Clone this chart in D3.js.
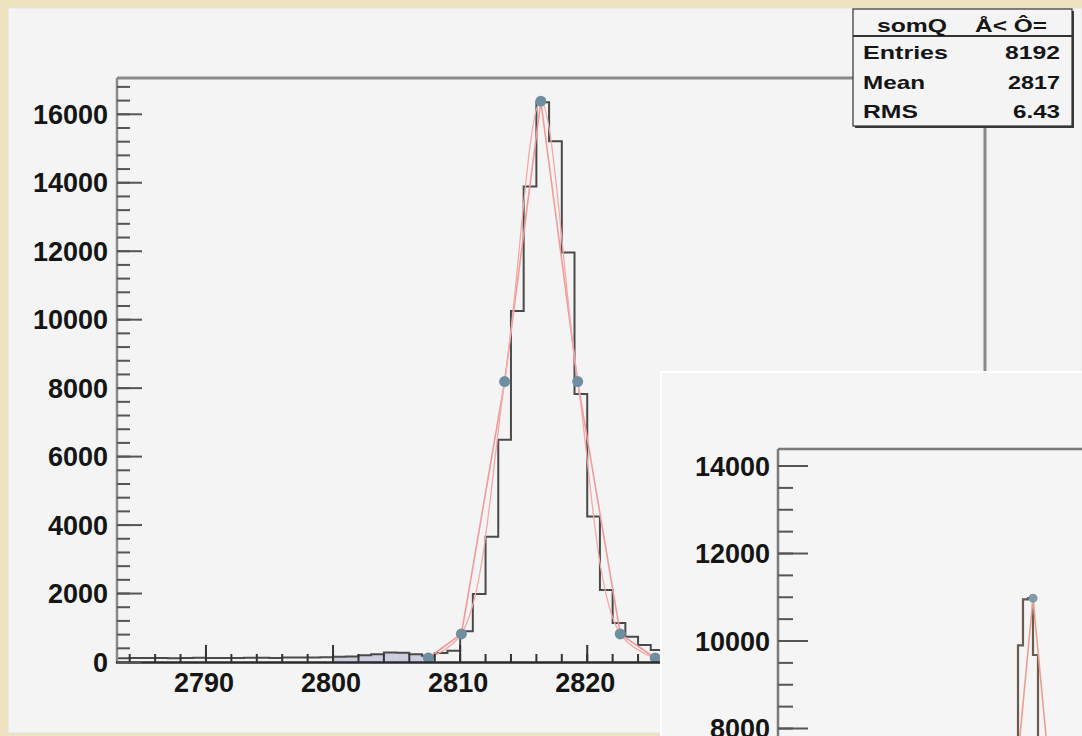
<!DOCTYPE html>
<html>
<head>
<meta charset="utf-8">
<script src="https://cdn.jsdelivr.net/npm/d3@7"></script>
<style>
html,body{margin:0;padding:0;background:#efe2bf;}
svg{display:block;}
text{font-family:"Liberation Sans",Arial,sans-serif;font-weight:bold;fill:#151515;}
</style>
</head>
<body>
<svg id="c" width="1082" height="736"></svg>
<script>
// ---------- data ----------
const binStart = 2783;               // left edge of first bin (width 1)
const mainCounts = [
  110,115,120,115,110,120,125,115,120,118,122,125,120,128,130,135,140,
  150,160,200,230,280,270,230,180,260,330,
  900,1990,3660,6490,10250,13890,16350,15210,11960,7830,4250,2100,1140,740,500,350,
  260,220,180,160,150,140,135,130,128,125,122,120,118,115,115,112,110,110,108,105,105,102,100,100,100
];
const shadedBins = [2800,2801,2802,2803,2804,2805,2806,2807];
const fitX = [2807.5, 2810.1, 2813.5, 2816.35, 2819.25, 2822.6, 2825.35];
const fitY = [117, 820, 8192, 16384, 8192, 820, 117];
const yTicksMain = [0,2000,4000,6000,8000,10000,12000,14000,16000];
const xTicksMain = [2790,2800,2810,2820,2830,2840,2850];

const insetStart = 2810;
const insetCounts = [6200,7000,7600,9900,10950,10980,9680,7600,6800,6000];
const insetFitX = [2812.3, 2816.0, 2819.7];
const insetFitY = [6500, 10980, 6500];
const yTicksInset = [8000,10000,12000,14000];

const statsTitle = ["somQ", "Å< Ô="];
const statsNames = ["Entries","Mean","RMS"];
const statsValues = ["8192","2817","6.43"];

// ---------- drawing ----------
const svg = d3.select("#c");
const defs = svg.append("defs");

// main pad
svg.append("rect").attr("x",8).attr("y",8).attr("width",1074).attr("height",725)
  .attr("fill","#f4f4f4").attr("stroke","#e2e2e2").attr("stroke-width",1);

const x = d3.scaleLinear().domain([2783, 2851.3]).range([117, 985]);
const y = d3.scaleLinear().domain([0, 17060]).range([662, 78]);

defs.append("clipPath").attr("id","mclip").append("rect")
  .attr("x",117).attr("y",70).attr("width",868).attr("height",593);

const main = svg.append("g").attr("clip-path","url(#mclip)");

// shaded boxes near baseline
main.selectAll("rect.sh").data(shadedBins).join("rect").attr("class","sh")
  .attr("x", d => x(d)).attr("width", d => x(d+1)-x(d))
  .attr("y", d => y(mainCounts[d-binStart])).attr("height", d => y(0)-y(mainCounts[d-binStart]))
  .attr("fill","#cdcde0");

// histogram step
const histPts = mainCounts.map((v,i)=>[binStart+i, v]);
histPts.push([binStart+mainCounts.length, mainCounts[mainCounts.length-1]]);
main.append("path").datum(histPts)
  .attr("d", d3.line().x(d=>x(d[0])).y(d=>y(d[1])).curve(d3.curveStepAfter))
  .attr("fill","none").attr("stroke","#4a4a4a").attr("stroke-width",2);

// fit lines
const fitPts = fitX.map((v,i)=>[v, fitY[i]]);
main.append("path").datum(fitPts)
  .attr("d", d3.line().x(d=>x(d[0])).y(d=>y(d[1])))
  .attr("fill","none").attr("stroke","#f29a9a").attr("stroke-width",1.6);
main.append("path").datum(fitPts)
  .attr("d", d3.line().x(d=>x(d[0])).y(d=>y(d[1])).curve(d3.curveCatmullRom))
  .attr("fill","none").attr("stroke","#f4a8a8").attr("stroke-width",1.3);
main.selectAll("circle.fp").data(fitPts).join("circle").attr("class","fp")
  .attr("cx", d=>x(d[0])).attr("cy", d=>y(d[1])).attr("r",5.5).attr("fill","#6f8fa0");

// frame
svg.append("line").attr("x1",117).attr("x2",985).attr("y1",78).attr("y2",78).attr("stroke","#8a8a8a").attr("stroke-width",3);
svg.append("line").attr("x1",985).attr("x2",985).attr("y1",78).attr("y2",662).attr("stroke","#8a8a8a").attr("stroke-width",3);
svg.append("line").attr("x1",117).attr("x2",117).attr("y1",78).attr("y2",663).attr("stroke","#8a8a8a").attr("stroke-width",2.5);
svg.append("line").attr("x1",116).attr("x2",985).attr("y1",662.5).attr("y2",662.5).attr("stroke","#2a2a2a").attr("stroke-width",2.5);

// y axis ticks (main)
const yMinor = d3.range(0, 17000, 400);
svg.selectAll("line.ymn").data(yMinor).join("line").attr("class","ymn")
  .attr("x1",117).attr("x2",130).attr("y1",d=>y(d)).attr("y2",d=>y(d))
  .attr("stroke","#555").attr("stroke-width",2);
svg.selectAll("line.ymj").data(yTicksMain).join("line").attr("class","ymj")
  .attr("x1",117).attr("x2",142).attr("y1",d=>y(d)).attr("y2",d=>y(d))
  .attr("stroke","#555").attr("stroke-width",2);
svg.selectAll("text.yl").data(yTicksMain).join("text").attr("class","yl")
  .attr("x",108).attr("y",d=>y(d)+9.5).attr("text-anchor","end")
  .attr("font-size",27).text(d=>d);

// x axis ticks (main)
const xMinor = d3.range(2784, 2852, 2);
svg.selectAll("line.xmn").data(xMinor).join("line").attr("class","xmn")
  .attr("x1",d=>x(d)).attr("x2",d=>x(d)).attr("y1",662).attr("y2",654)
  .attr("stroke","#333").attr("stroke-width",2);
svg.selectAll("line.xmj").data(xTicksMain).join("line").attr("class","xmj")
  .attr("x1",d=>x(d)).attr("x2",d=>x(d)).attr("y1",662).attr("y2",645)
  .attr("stroke","#333").attr("stroke-width",2);
svg.selectAll("text.xl").data(xTicksMain).join("text").attr("class","xl")
  .attr("x",d=>x(d)-2).attr("y",692).attr("text-anchor","middle")
  .attr("font-size",27).text(d=>d);

// stats box
const sb = svg.append("g");
sb.append("rect").attr("x",855).attr("y",11).attr("width",219).attr("height",117).attr("fill","#3a3a3a");
sb.append("rect").attr("x",853).attr("y",9).attr("width",219).attr("height",117)
  .attr("fill","#f4f4f4").attr("stroke","#333").attr("stroke-width",1.2);
sb.append("line").attr("x1",853).attr("x2",1072).attr("y1",36).attr("y2",36).attr("stroke","#333").attr("stroke-width",2);
sb.append("text").attr("x",877).attr("y",32).attr("font-size",19)
  .attr("textLength",70).attr("lengthAdjust","spacingAndGlyphs").text(statsTitle[0]);
sb.append("text").attr("x",975).attr("y",32).attr("font-size",19)
  .attr("textLength",72).attr("lengthAdjust","spacingAndGlyphs").text(statsTitle[1]);
const nameW = [85,62,55], valW = [55,52,47];
statsNames.forEach((n,i)=>{
  sb.append("text").attr("x",863).attr("y",59+i*29.5).attr("font-size",18.5)
    .attr("textLength",nameW[i]).attr("lengthAdjust","spacingAndGlyphs").text(n);
  sb.append("text").attr("x",1060-valW[i]).attr("y",59+i*29.5).attr("font-size",18.5)
    .attr("textLength",valW[i]).attr("lengthAdjust","spacingAndGlyphs").text(statsValues[i]);
});

// ---------- inset pad ----------
defs.append("clipPath").attr("id","pclip").append("rect")
  .attr("x",660).attr("y",371).attr("width",422).attr("height",365);
const pad = svg.append("g").attr("clip-path","url(#pclip)");
pad.append("rect").attr("x",660).attr("y",371).attr("width",430).attr("height",380).attr("fill","#f5f5f5");
pad.append("line").attr("x1",660).attr("x2",1082).attr("y1",372).attr("y2",372).attr("stroke","#ffffff").attr("stroke-width",2);
pad.append("line").attr("x1",661).attr("x2",661).attr("y1",371).attr("y2",736).attr("stroke","#ffffff").attr("stroke-width",2);

const xi = d3.scaleLinear().domain([2765, 2825.8]).range([778, 1082]);
const yi = d3.scaleLinear().domain([7000, 14389]).range([772.25, 449]);

defs.append("clipPath").attr("id","iclip").append("rect")
  .attr("x",778).attr("y",449).attr("width",304).attr("height",287);
const inner = pad.append("g").attr("clip-path","url(#iclip)");
const insPts = insetCounts.map((v,i)=>[insetStart+i, v]);
insPts.push([insetStart+insetCounts.length, insetCounts[insetCounts.length-1]]);
inner.append("path").datum(insPts)
  .attr("d", d3.line().x(d=>xi(d[0])).y(d=>yi(d[1])).curve(d3.curveStepAfter))
  .attr("fill","none").attr("stroke","#6a5a50").attr("stroke-width",2.2);
const insFit = insetFitX.map((v,i)=>[v, insetFitY[i]]);
inner.append("path").datum(insFit)
  .attr("d", d3.line().x(d=>xi(d[0])).y(d=>yi(d[1])))
  .attr("fill","none").attr("stroke","#e8a090").attr("stroke-width",1.6);
inner.append("circle").attr("cx",xi(insetFitX[1])).attr("cy",yi(insetFitY[1])).attr("r",4.5).attr("fill","#7f9aa8");

pad.append("line").attr("x1",778).attr("x2",1082).attr("y1",449).attr("y2",449).attr("stroke","#7a7a7a").attr("stroke-width",2.5);
pad.append("line").attr("x1",778).attr("x2",778).attr("y1",449).attr("y2",740).attr("stroke","#7a7a7a").attr("stroke-width",2.5);
const yiMinor = d3.range(7500, 14400, 500);
pad.selectAll("line.imn").data(yiMinor).join("line").attr("class","imn")
  .attr("x1",778).attr("x2",793).attr("y1",d=>yi(d)).attr("y2",d=>yi(d))
  .attr("stroke","#555").attr("stroke-width",2);
pad.selectAll("line.imj").data(yTicksInset).join("line").attr("class","imj")
  .attr("x1",778).attr("x2",808).attr("y1",d=>yi(d)).attr("y2",d=>yi(d))
  .attr("stroke","#555").attr("stroke-width",2);
pad.selectAll("text.il").data(yTicksInset).join("text").attr("class","il")
  .attr("x",770).attr("y",d=>yi(d)+9.5).attr("text-anchor","end")
  .attr("font-size",27).text(d=>d);
</script>
</body>
</html>
